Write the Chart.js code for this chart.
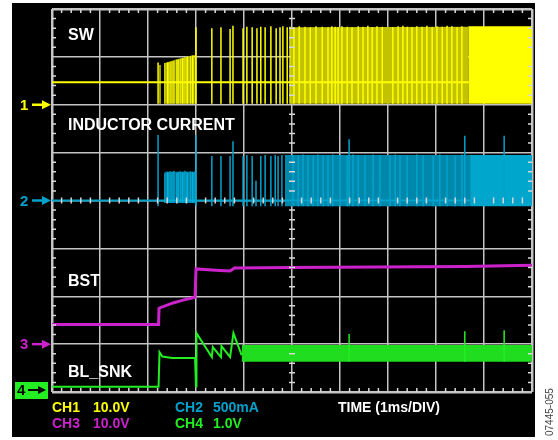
<!DOCTYPE html>
<html>
<head>
<meta charset="UTF-8">
<title>SW / Inductor current / BST / BL_SNK</title>
<script src="https://cdn.jsdelivr.net/npm/chart.js"></script>
<style>
  html, body { margin: 0; padding: 0; background: #fff; }
  canvas { display: block; }
</style>
</head>
<body>
<canvas id="scope" width="558" height="440"></canvas>
<script>
// x: time in ms (1 ms/div, 10 div), y: screen divisions from the bottom (8 div)

// CH1 - SW
const swIdle = 6.47;
const swLow = 6.02;
const swSpikeX   = [2.21, 3.00, 3.33, 3.52, 3.71, 3.77, 3.98, 4.06, 4.17, 4.27, 4.35, 4.44, 4.56, 4.67, 4.75, 4.81, 4.90, 4.96,
                    5.04, 5.15, 5.27, 5.38, 5.50, 5.63, 5.75, 5.83, 5.90, 5.96, 6.04, 6.15, 6.25, 6.38, 6.48, 6.58, 6.67,
                    6.77, 6.88, 7.10, 7.21, 7.31, 7.40, 7.50, 7.60, 7.71, 7.81, 7.92, 8.02, 8.13, 8.23, 8.33, 8.44, 8.54];
const swSpikeTop = [6.88, 7.62, 7.60, 7.62, 7.58, 7.65, 7.60, 7.63, 7.62, 7.60, 7.63, 7.62, 7.64, 7.60, 7.62, 7.64, 7.62, 7.63,
                    7.62, 7.64, 7.63, 7.62, 7.64, 7.63, 7.62, 7.64, 7.63, 7.62, 7.64, 7.63, 7.62, 7.64, 7.63, 7.65, 7.62,
                    7.64, 7.63, 7.62, 7.64, 7.65, 7.63, 7.62, 7.64, 7.63, 7.65, 7.62, 7.64, 7.63, 7.65, 7.64, 7.62, 7.64];
const swBurstSpikeX   = [2.25, 2.35, 2.40, 2.42, 2.46, 2.50, 2.54, 2.60, 2.63, 2.67, 2.71, 2.73, 2.77, 2.81, 2.83, 2.88, 2.92, 2.94, 2.98];
const swBurstSpikeTop = [6.83, 6.87, 6.88, 6.89, 6.90, 6.91, 6.92, 6.94, 6.95, 6.96, 6.97, 6.98, 6.99, 7.00, 7.01, 7.02, 7.03, 7.03, 7.04];
const swBurstX   = [2.35, 2.60, 2.96];
const swBurstTop = [6.87, 6.95, 7.04];
const swDenseX   = [4.98, 8.67];
const swDenseTop = [7.62, 7.63];
const swSolidX   = [8.67, 10.0];
const swSolidTop = [7.64, 7.64];

// CH2 - INDUCTOR CURRENT
const ilIdle = 4.0;
const ilLow = 3.88;
const ilSpikeX   = [2.21, 3.00, 3.33, 3.52, 3.71, 3.77, 3.98, 4.06, 4.17, 4.25, 4.35, 4.44, 4.56, 4.65, 4.71, 4.79,
                    5.02, 5.13, 5.23, 5.33, 5.44, 5.54, 5.65, 5.75, 5.85, 6.00, 6.15, 6.19, 6.27, 6.38, 6.52, 6.69,
                    6.83, 7.04, 7.15, 7.25, 7.40, 7.60, 7.73, 7.94, 8.08, 8.23, 8.40, 8.54, 8.60, 9.42];
const ilSpikeTop = [5.37, 5.37, 4.93, 4.93, 4.93, 5.24, 4.93, 4.95, 4.93, 4.41, 4.93, 4.95, 4.93, 4.95, 4.93, 4.95,
                    4.95, 4.94, 4.96, 4.95, 4.94, 4.96, 4.95, 4.94, 4.96, 4.95, 4.94, 5.28, 4.96, 4.95, 4.94, 4.96,
                    4.95, 4.94, 4.96, 4.95, 4.94, 4.96, 4.95, 4.94, 4.96, 4.95, 4.94, 4.96, 5.35, 5.35];
const ilBurstSpikeX   = [2.35, 2.40, 2.42, 2.46, 2.50, 2.54, 2.60, 2.63, 2.67, 2.71, 2.73, 2.77, 2.81, 2.83, 2.88, 2.92, 2.94, 2.98];
const ilBurstSpikeTop = [4.58, 4.60, 4.59, 4.61, 4.60, 4.62, 4.58, 4.60, 4.61, 4.59, 4.60, 4.62, 4.60, 4.58, 4.61, 4.60, 4.59, 4.61];
const ilBurstX   = [2.35, 2.98];
const ilBurstTop = [4.60, 4.60];
const ilDenseX   = [4.85, 8.71];
const ilDenseTop = [4.95, 4.95];
const ilSolidX   = [8.71, 10.0];
const ilSolidTop = [4.95, 4.95];

// CH3 - BST
const bstX = [0, 2.22, 2.23, 2.52, 2.73, 2.98, 3.00, 3.50, 3.71, 3.80, 5.00, 6.80, 8.60, 10.0];
const bstY = [1.41, 1.41, 1.75, 1.86, 1.92, 1.98, 2.57, 2.54, 2.53, 2.59, 2.60, 2.61, 2.62, 2.65];

// CH4 - BL_SNK
const snkX = [0, 2.22, 2.24, 2.30, 2.50, 2.98, 3.00, 3.01, 3.33, 3.35, 3.52, 3.53, 3.71, 3.78, 3.95];
const snkY = [0.11, 0.11, 0.83, 0.74, 0.71, 0.71, 0.12, 1.23, 0.73, 0.94, 0.73, 0.96, 0.73, 1.23, 0.77];
const snkLow = 0.63;
const snkBandX   = [3.95, 10.0];
const snkBandTop = [0.98, 0.98];
const snkSpikeX   = [6.19, 8.60, 9.42];
const snkSpikeTop = [1.21, 1.27, 1.29];

const YELLOW = '#ffff00';
const CYAN = '#00a2cc';
const MAGENTA = '#cc22cc';
const GREEN = '#22ee22';

function pts(xs, ys) {
    return xs.map((x, i) => ({ x: x, y: ys[i] }));
}
// vertical strokes from low to top, broken with nulls
function spikes(xs, tops, low) {
    const out = [];
    xs.forEach((x, i) => {
        out.push({ x: x, y: low }, { x: x, y: tops[i] }, { x: x, y: null });
    });
    return out;
}
function line(data, color, width, order) {
    return { data: data, borderColor: color, borderWidth: width, pointRadius: 0, fill: false, order: order };
}
function band(data, low, color, order) {
    return { data: data, borderColor: 'transparent', borderWidth: 0, pointRadius: 0,
             backgroundColor: color, fill: { value: low }, order: order };
}

// black scope screen behind the plot
const screenBg = {
    id: 'screenBg',
    beforeDraw(chart) {
        const c = chart.ctx;
        c.save();
        c.fillStyle = '#ffffff';
        c.fillRect(0, 0, chart.width, chart.height);
        c.fillStyle = '#000000';
        c.fillRect(12, 3, 523, 434);
        c.restore();
    }
};

// minor ticks on frame and center axes, channel markers, text
const scopeDecor = {
    id: 'scopeDecor',
    afterDraw(chart) {
        const c = chart.ctx;
        const xs = chart.scales.x, ys = chart.scales.y;
        const a = chart.chartArea;
        const cx = xs.getPixelForValue(5), cy = ys.getPixelForValue(4);
        c.save();
        c.strokeStyle = '#d8d8d8';
        c.lineWidth = 1.5;
        c.beginPath();
        for (let i = 1; i < 50; i++) {
            if (i % 5 === 0) continue;
            const px = xs.getPixelForValue(i / 5);
            c.moveTo(px, a.top); c.lineTo(px, a.top + 4);
            c.moveTo(px, a.bottom); c.lineTo(px, a.bottom - 4);
            c.moveTo(px, cy - 3); c.lineTo(px, cy + 3);
        }
        for (let i = 1; i < 40; i++) {
            if (i % 5 === 0) continue;
            const py = ys.getPixelForValue(i / 5);
            c.moveTo(a.left, py); c.lineTo(a.left + 4, py);
            c.moveTo(a.right, py); c.lineTo(a.right - 4, py);
            c.moveTo(cx - 3, py); c.lineTo(cx + 3, py);
        }
        c.stroke();

        function marker(label, py, color) {
            c.fillStyle = color;
            c.strokeStyle = color;
            c.font = 'bold 15px "Liberation Sans", Arial, sans-serif';
            c.textBaseline = 'middle';
            c.textAlign = 'left';
            c.fillText(label, 20, py + 1);
            c.lineWidth = 2.5;
            c.beginPath();
            c.moveTo(32, py); c.lineTo(44, py);
            c.stroke();
            c.beginPath();
            c.moveTo(42, py - 4.5); c.lineTo(51, py); c.lineTo(42, py + 4.5);
            c.closePath();
            c.fill();
        }
        marker('1', ys.getPixelForValue(6), YELLOW);
        marker('2', ys.getPixelForValue(4), CYAN);
        marker('3', ys.getPixelForValue(1), MAGENTA);
        const p4 = ys.getPixelForValue(0) - 2;
        c.fillStyle = GREEN;
        c.fillRect(15, p4 - 8, 33, 17);
        c.font = 'bold 15px "Liberation Sans", Arial, sans-serif';
        c.fillStyle = '#000';
        c.strokeStyle = '#000';
        c.textBaseline = 'middle';
        c.fillText('4', 17, p4 + 1);
        c.lineWidth = 2;
        c.beginPath(); c.moveTo(28, p4); c.lineTo(40, p4); c.stroke();
        c.beginPath(); c.moveTo(38, p4 - 4); c.lineTo(46, p4); c.lineTo(38, p4 + 4); c.closePath(); c.fill();

        // trace names
        c.fillStyle = '#ffffff';
        c.textBaseline = 'alphabetic';
        c.font = 'bold 16px "Liberation Sans", Arial, sans-serif';
        c.fillText('SW', 68, 40);
        c.fillText('INDUCTOR CURRENT', 68, 130);
        c.fillText('BST', 68, 286);
        c.fillText('BL_SNK', 68, 377);

        // channel settings
        c.font = 'bold 14px "Liberation Sans", Arial, sans-serif';
        c.fillStyle = YELLOW;  c.fillText('CH1', 52, 412); c.fillText('10.0V', 93, 412);
        c.fillStyle = MAGENTA; c.fillText('CH3', 52, 428); c.fillText('10.0V', 93, 428);
        c.fillStyle = CYAN;    c.fillText('CH2', 175, 412); c.fillText('500mA', 213, 412);
        c.fillStyle = GREEN;   c.fillText('CH4', 175, 428); c.fillText('1.0V', 213, 428);
        c.fillStyle = '#ffffff';
        c.fillText('TIME (1ms/DIV)', 338, 412);

        // figure id
        c.translate(553, 436);
        c.rotate(-Math.PI / 2);
        c.font = '10px "Liberation Sans", Arial, sans-serif';
        c.fillStyle = '#444';
        c.fillText('07445-055', 0, 0);
        c.restore();
    }
};

const gridOpts = (max) => ({
    color: '#c4c4c4',
    lineWidth: (ctx) => (ctx.tick && (ctx.tick.value === 0 || ctx.tick.value === max)) ? 2.5 : 1.5,
    drawTicks: false
});

new Chart(document.getElementById('scope').getContext('2d'), {
    type: 'line',
    data: {
        datasets: [
            // spikes on top
            line(spikes(swSpikeX, swSpikeTop, swLow), YELLOW, 1.5, 0),
            line(spikes(swBurstSpikeX, swBurstSpikeTop, swLow), YELLOW, 1.2, 0),
            line(spikes(ilSpikeX, ilSpikeTop, ilLow), CYAN, 1.5, 0),
            line(spikes(ilBurstSpikeX, ilBurstSpikeTop, 3.95), '#00b0dc', 1.2, 0),
            line(spikes(snkSpikeX, snkSpikeTop, snkLow), GREEN, 1.5, 0),
            // level traces
            line(pts([0, 10], [swIdle, swIdle]), YELLOW, 2, 1),
            line(pts([0, 10], [ilIdle, ilIdle]), CYAN, 2, 1),
            line(pts(bstX, bstY), MAGENTA, 3, 1),
            line(pts(snkX, snkY), GREEN, 2, 1),
            // switching envelopes
            band(pts(swBurstX, swBurstTop), swLow, '#8c8c00', 2),
            band(pts(swDenseX, swDenseTop), swLow, '#c2c200', 2),
            band(pts(swSolidX, swSolidTop), swLow, YELLOW, 2),
            band(pts(ilBurstX, ilBurstTop), 3.95, '#006c8a', 2),
            band(pts(ilDenseX, ilDenseTop), ilLow, '#0088ac', 2),
            band(pts(ilSolidX, ilSolidTop), ilLow, '#00a6cc', 2),
            band(pts(snkBandX, snkBandTop), snkLow, '#20dd20', 2)
        ]
    },
    options: {
        responsive: false,
        animation: false,
        devicePixelRatio: 1,
        layout: { padding: { left: 52, top: 9, right: 26, bottom: 48 } },
        plugins: { legend: { display: false }, tooltip: { enabled: false } },
        scales: {
            x: {
                type: 'linear', min: 0, max: 10, z: 1,
                ticks: { display: false, stepSize: 1 },
                grid: gridOpts(10),
                border: { display: false }
            },
            y: {
                type: 'linear', min: 0, max: 8, z: 1,
                ticks: { display: false, stepSize: 1 },
                grid: gridOpts(8),
                border: { display: false }
            }
        }
    },
    plugins: [screenBg, scopeDecor]
});
</script>
</body>
</html>
